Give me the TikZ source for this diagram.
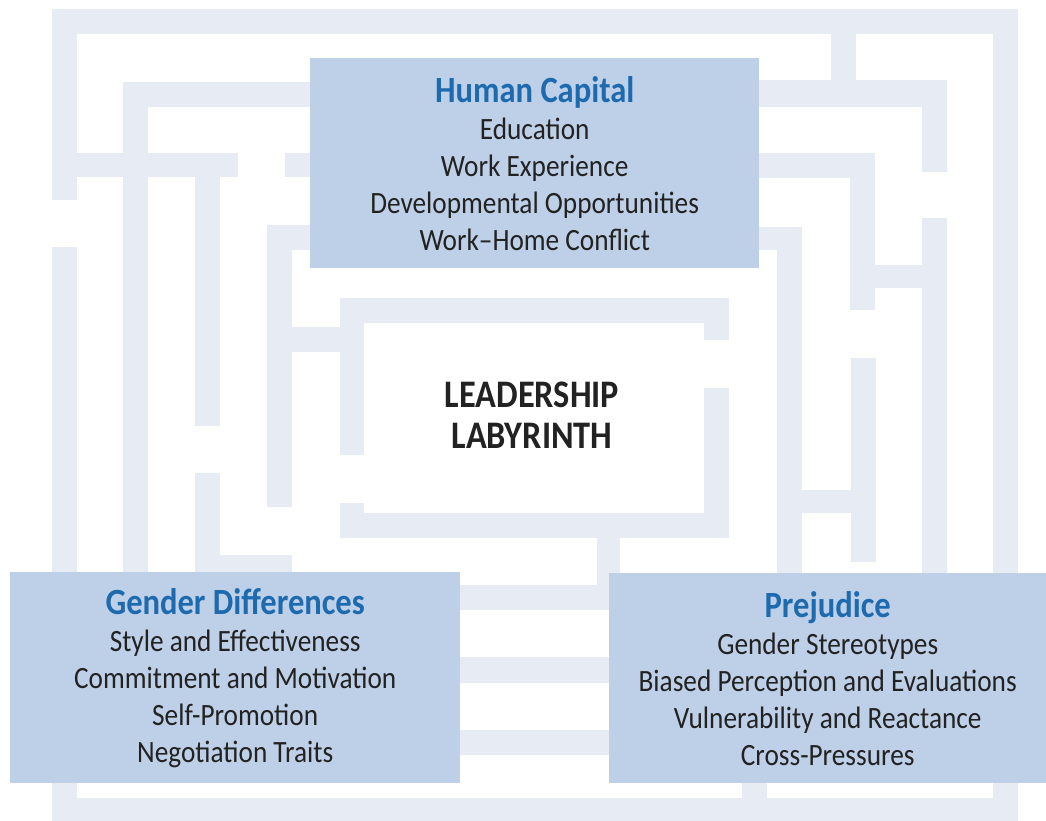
\documentclass[tikz,border=0pt]{standalone}
\usepackage{fontspec}
\setmainfont{Carlito}[FakeStretch=0.88]
\usepackage{tikz}
\usetikzlibrary{positioning, calc}
\definecolor{wallgray}{RGB}{231,235,244}
\definecolor{boxblue}{RGB}{190,208,232}
\definecolor{headblue}{RGB}{30,106,174}
\definecolor{bodytext}{RGB}{34,34,34}
\tikzstyle{wall} = [fill=wallgray]
\tikzstyle{factor} = [fill=boxblue, anchor=north west, align=center, inner sep=0pt, text=bodytext, font=\fontsize{31}{37}\selectfont]
\newcommand{\factorhead}[1]{{\fontsize{37}{37}\selectfont\color{headblue}\bfseries #1}}

\begin{document}
\begin{tikzpicture}[x=1pt, y=-1pt]
		\fill[white] (0,0) rectangle (1046,821);
		\useasboundingbox (0,0) rectangle (1046,821);

		% outer frame
		\fill[wall] (52,9)   rectangle (1018,34);
		\fill[wall] (52,9)   rectangle (77,200);
		\fill[wall] (52,247) rectangle (77,821);
		\fill[wall] (993,9)  rectangle (1018,821);
		\fill[wall] (52,798) rectangle (1018,821);

		% left part
		\fill[wall] (123,82)  rectangle (310,107);
		\fill[wall] (123,82)  rectangle (148,573);
		\fill[wall] (77,153)  rectangle (238,177);
		\fill[wall] (285,153) rectangle (310,177);
		\fill[wall] (195,177) rectangle (220,426);
		\fill[wall] (195,473) rectangle (220,573);
		\fill[wall] (220,555) rectangle (292,573);
		\fill[wall] (267,225) rectangle (310,250);
		\fill[wall] (267,225) rectangle (292,507);
		\fill[wall] (292,327) rectangle (340,352);

		% centre room
		\fill[wall] (340,298) rectangle (729,323);
		\fill[wall] (340,298) rectangle (364,455);
		\fill[wall] (340,503) rectangle (364,538);
		\fill[wall] (340,513) rectangle (729,538);
		\fill[wall] (704,298) rectangle (729,340);
		\fill[wall] (704,388) rectangle (729,538);

		% between the lower boxes
		\fill[wall] (597,538) rectangle (620,610);
		\fill[wall] (440,585) rectangle (620,610);
		\fill[wall] (440,657) rectangle (620,683);
		\fill[wall] (440,730) rectangle (620,755);
		\fill[wall] (742,780) rectangle (767,798);

		% right part
		\fill[wall] (831,34)  rectangle (856,107);
		\fill[wall] (759,80)  rectangle (947,107);
		\fill[wall] (922,80)  rectangle (947,172);
		\fill[wall] (922,218) rectangle (947,573);
		\fill[wall] (759,153) rectangle (875,178);
		\fill[wall] (850,153) rectangle (875,310);
		\fill[wall] (875,265) rectangle (922,288);
		\fill[wall] (759,227) rectangle (802,250);
		\fill[wall] (777,227) rectangle (802,573);
		\fill[wall] (851,358) rectangle (876,562);
		\fill[wall] (802,490) rectangle (851,513);

		\coordinate (humcap) at (310, 58);
		\coordinate (gender) at (10,  572);
		\coordinate (prejud) at (609, 573);
		\coordinate (centre) at (532, 415);

		\node[factor, minimum width=449pt, minimum height=210pt] (HUM) at (humcap) {\factorhead{Human Capital}\\Education\\Work Experience\\Developmental Opportunities\\Work–Home Conflict};
		\node[factor, minimum width=450pt, minimum height=211pt] (GEN) at (gender) {\factorhead{Gender Differences}\\Style and Effectiveness\\Commitment and Motivation\\Self-Promotion\\Negotiation Traits};
		\node[factor, minimum width=437pt, minimum height=210pt] (PRE) at (prejud) {\factorhead{Prejudice}\\Gender Stereotypes\\Biased Perception and Evaluations\\Vulnerability and Reactance\\Cross-Pressures};
		\node[align=center, text=bodytext, font=\fontsize{39}{41}\selectfont\bfseries] (LAB) at (centre) {LEADERSHIP\\LABYRINTH};

	\end{tikzpicture}
\end{document}
